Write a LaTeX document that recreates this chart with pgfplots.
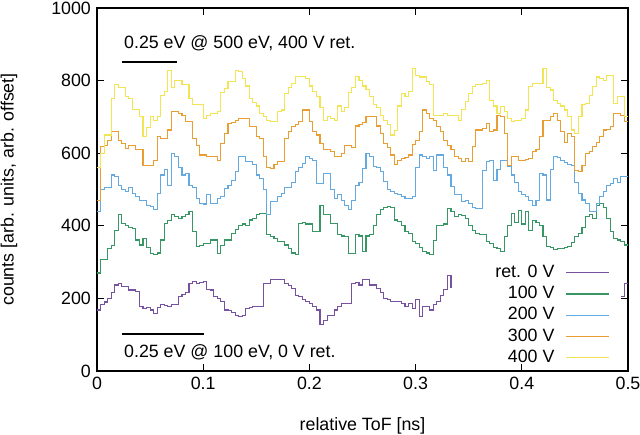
\documentclass[border=0pt]{standalone}
\usepackage{fontspec}
\setmainfont{Liberation Sans}
\usepackage{pgfplots}
\usepackage{pgfplotstable}
\pgfplotsset{compat=1.18}
\definecolor{cp0}{RGB}{118,82,160}
\definecolor{cp100}{RGB}{55,150,100}
\definecolor{cp200}{RGB}{100,170,225}
\definecolor{cp300}{RGB}{232,158,50}
\definecolor{cp400}{RGB}{242,228,85}
\pgfplotstableread{
i p0 p100 p200 p300 p400
0 168 270 440 470 560
1 182 306 500 618 600
2 190 306 505 620 650
3 200 338 505 636 650
4 215 345 540 659 751
5 237 388 535 659 790
6 241 430 510 636 780
7 232 407 500 627 780
8 232 402 495 613 755
9 223 395 505 620 750
10 223 393 490 620 720
11 220 361 480 609 720
12 177 347 470 609 700
13 172 365 470 567 645
14 175 340 455 567 670
15 168 324 453 567 700
16 159 320 445 581 690
17 175 325 490 645 700
18 182 361 540 640 760
19 180 407 555 641 770
20 177 415 512 664 829
21 182 430 600 714 780
22 182 425 590 714 801
23 205 420 560 710 800
24 210 425 540 705 790
25 215 432 545 687 790
26 242 439 510 687 751
27 247 384 505 641 735
28 242 342 476 620 735
29 245 345 462 595 733
30 247 350 460 595 696
31 225 350 485 590 705
32 223 361 462 590 710
33 205 361 462 590 710
34 200 324 476 581 715
35 191 345 480 627 766
36 168 361 503 654 779
37 166 361 510 682 797
38 160 380 526 685 797
39 154 390 550 690 829
40 150 402 590 696 825
41 152 405 590 696 806
42 173 402 577 696 785
43 175 416 577 673 751
44 177 420 570 673 740
45 177 430 540 645 730
46 177 434 530 640 710
47 242 434 499 590 700
48 242 375 430 560 690
49 251 370 466 558 687
50 251 365 467 570 687
51 251 356 480 576 715
52 251 356 490 576 719
53 242 347 505 641 765
54 235 338 505 660 780
55 228 325 520 673 792
56 209 320 549 680 811
57 205 407 560 687 811
58 196 410 572 719 811
59 191 405 590 719 805
60 186 405 586 687 785
61 177 384 580 660 770
62 168 384 517 650 755
63 127 457 517 627 725
64 140 430 545 609 690
65 154 430 545 609 700
66 154 407 500 604 695
67 168 407 476 590 690
68 177 375 485 590 730
69 186 372 470 600 715
70 186 370 457 620 725
71 186 324 444 620 768
72 242 324 470 615 780
73 245 375 512 675 811
74 237 372 520 680 800
75 251 329 558 685 785
76 251 372 600 700 775
77 237 375 590 700 756
78 237 400 563 700 735
79 228 430 560 675 725
80 215 444 550 655 705
81 200 450 522 627 690
82 196 453 499 615 678
83 191 450 495 595 650
84 191 416 490 570 662
85 191 412 485 581 730
86 186 400 480 585 765
87 177 384 476 588 755
88 186 380 476 595 770
89 173 356 480 625 834
90 196 352 560 636 815
91 150 340 595 660 810
92 177 330 590 719 810
93 177 325 585 710 797
94 168 320 590 696 790
95 182 360 553 690 705
96 191 402 595 673 705
97 209 400 595 659 705
98 225 405 560 636 710
99 264 448 540 620 705
100 230 440 508 609 705
101 nan 425 485 590 705
102 nan 430 485 585 691
103 nan 428 466 576 720
104 nan 420 470 585 742
105 nan 400 462 576 765
106 nan 388 450 618 783
107 nan 380 448 664 788
108 nan 375 448 664 790
109 nan 375 553 668 792
110 nan 356 576 682 801
111 nan 350 580 659 746
112 nan 340 526 664 730
113 nan 338 555 705 710
114 nan 329 581 700 728
115 nan 370 580 654 715
116 nan 400 563 567 696
117 nan 434 540 590 687
118 nan 410 520 590 690
119 nan 443 494 581 690
120 nan 405 485 581 696
121 nan 440 480 582 719
122 nan 388 470 585 783
123 nan 415 457 604 792
124 nan 410 470 609 792
125 nan 400 544 645 792
126 nan 370 540 691 834
127 nan 342 471 691 780
128 nan 340 555 700 774
129 nan 335 590 710 746
130 nan 338 588 690 737
131 nan 338 580 660 730
132 nan 340 575 629 719
133 nan 342 570 655 700
134 nan 355 567 645 664
135 nan 370 520 553 654
136 nan 380 490 549 700
137 nan 395 471 567 733
138 nan 425 462 599 737
139 nan 430 440 605 760
140 nan 420 440 618 783
141 nan 457 462 630 810
142 nan 462 480 645 805
143 nan 450 495 664 801
144 nan 420 510 665 815
145 nan 385 517 673 815
146 nan 365 530 710 737
147 nan 361 520 710 755
148 205 357 535 705 755
149 240 347 535 687 700
150 240 347 535 687 700
}\datatab
\begin{document}
\fontsize{17.8}{21}\selectfont
\begin{tikzpicture}
\useasboundingbox (-97pt,-64pt) rectangle (543pt,371pt);
\begin{axis}[
  scale only axis, width=531pt, height=363pt,
  xmin=0, xmax=0.5, ymin=0, ymax=1000,
  xtick={0,0.1,0.2,0.3,0.4,0.5},
  ytick={0,200,400,600,800,1000},
  tick align=inside, major tick length=7pt,
  axis line style={line width=1.2pt},
  every tick/.style={black, line width=1pt},
  /pgf/number format/.cd, fixed, 1000 sep={}, assume math mode=true, /pgfplots/.cd,
  xlabel={relative ToF [ns]},
  ylabel={counts [arb. units, arb. offset]},
  every axis x label/.style={at={([yshift=-55pt]axis description cs:0.5,0)}, anchor=center},
  every axis y label/.style={at={([xshift=-88pt]axis description cs:0,0.5)}, anchor=center, rotate=90},
  unbounded coords=jump,
  legend plot pos=right,
  legend cell align=right,
  legend style={at={(axis cs:0.483,295)}, anchor=north east, draw=none, fill=none,
    inner sep=0pt, column sep=11pt, row sep=4.3pt,
    nodes={inner sep=0pt, text height=13pt, text depth=4pt}},
]
\addplot[const plot, cp0, line width=1.1pt, forget plot] table[x expr=\thisrow{i}/300, y=p0] {\datatab};
\addplot[const plot, cp100, line width=1.1pt, forget plot] table[x expr=\thisrow{i}/300, y=p100] {\datatab};
\addplot[const plot, cp200, line width=1.1pt, forget plot] table[x expr=\thisrow{i}/300, y=p200] {\datatab};
\addplot[const plot, cp300, line width=1.1pt, forget plot] table[x expr=\thisrow{i}/300, y=p300] {\datatab};
\addplot[const plot, cp400, line width=1.1pt, forget plot] table[x expr=\thisrow{i}/300, y=p400] {\datatab};
\addlegendimage{legend image code/.code={\draw[cp0, line width=1.3pt] (0pt,0pt) -- (43pt,0pt);}}
\addlegendentry{ret. 0 V}
\addlegendimage{legend image code/.code={\draw[cp100, line width=1.3pt] (0pt,0pt) -- (43pt,0pt);}}
\addlegendentry{100 V}
\addlegendimage{legend image code/.code={\draw[cp200, line width=1.3pt] (0pt,0pt) -- (43pt,0pt);}}
\addlegendentry{200 V}
\addlegendimage{legend image code/.code={\draw[cp300, line width=1.3pt] (0pt,0pt) -- (43pt,0pt);}}
\addlegendentry{300 V}
\addlegendimage{legend image code/.code={\draw[cp400, line width=1.3pt] (0pt,0pt) -- (43pt,0pt);}}
\addlegendentry{400 V}
\draw[line width=2pt] (axis cs:0.0235,851) -- (axis cs:0.0753,851);
\node[anchor=west, inner sep=0pt] at (axis cs:0.0254,903) {0.25 eV @ 500 eV, 400 V ret.};
\draw[line width=2pt] (axis cs:0.0235,102) -- (axis cs:0.1008,102);
\node[anchor=west, inner sep=0pt] at (axis cs:0.0254,52) {0.25 eV @ 100 eV, 0 V ret.};
\end{axis}
\end{tikzpicture}
\end{document}
